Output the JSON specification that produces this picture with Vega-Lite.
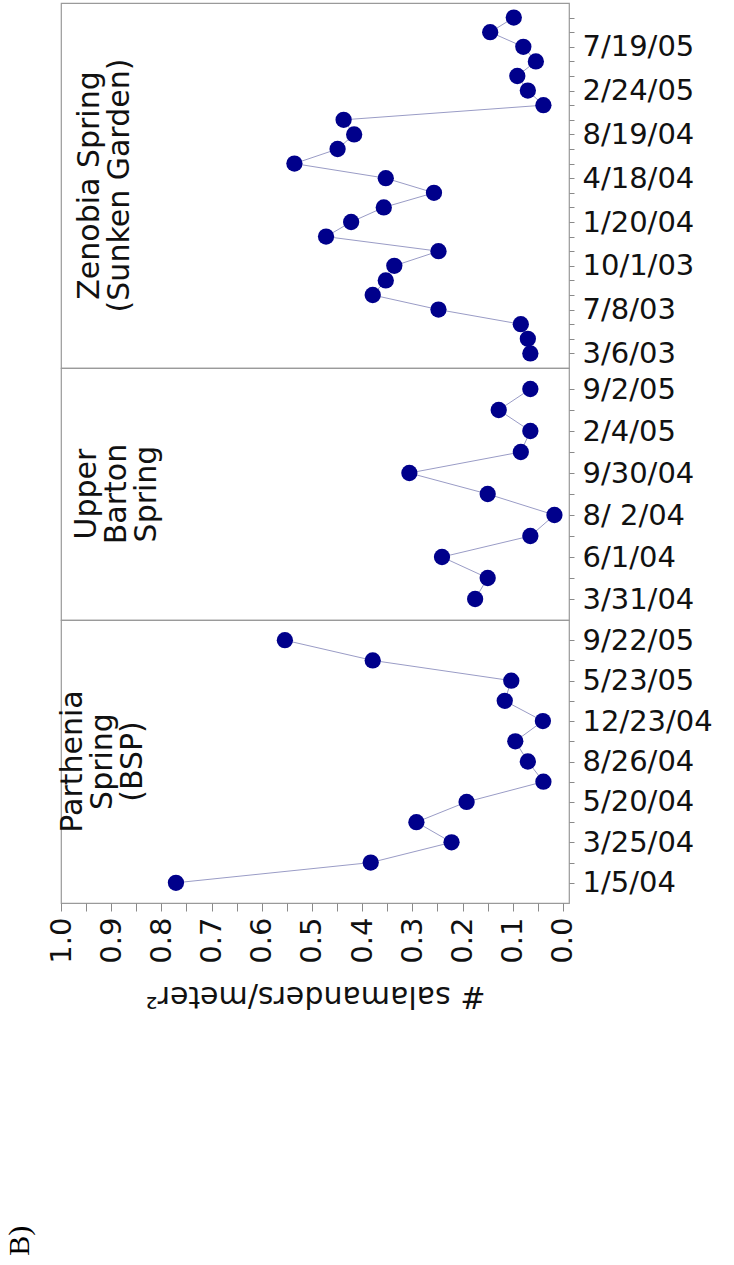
{
  "$schema": "https://vega.github.io/schema/vega-lite/v6.json",
  "padding": {"left": 5, "top": 2, "right": 5, "bottom": 5},
  "spacing": 0,
  "bounds": "flush",
  "config": {
    "font": "DejaVu Sans",
    "view": {"stroke": "#9a9a9a", "strokeWidth": 1.2},
    "axis": {"labelFont": "DejaVu Sans", "labelFontSize": 29, "labelColor": "#111111", "titleFont": "DejaVu Sans", "titleFontSize": 30, "titleFontWeight": "normal", "titleColor": "#111111", "tickColor": "#8a8a8a", "domainColor": "#9a9a9a", "grid": false, "labelOverlap": false},
    "title": {"font": "DejaVu Sans", "fontSize": 30, "fontWeight": "normal", "color": "#111111"}
  },
  "title": {"text": "B)", "orient": "bottom", "anchor": "start", "angle": 270, "font": "Liberation Serif", "fontSize": 30, "color": "#000000", "offset": 245, "dy": -41},
  "datasets": {
    "zen": [
      {"obs": 0, "date": "3/6/03", "value": 0.065},
      {"obs": 1, "date": "4/10/03", "value": 0.070},
      {"obs": 2, "date": "5/15/03", "value": 0.084},
      {"obs": 3, "date": "7/8/03", "value": 0.248},
      {"obs": 4, "date": "7/29/03", "value": 0.379},
      {"obs": 5, "date": "8/27/03", "value": 0.353},
      {"obs": 6, "date": "10/1/03", "value": 0.336},
      {"obs": 7, "date": "10/29/03", "value": 0.248},
      {"obs": 8, "date": "12/10/03", "value": 0.472},
      {"obs": 9, "date": "1/20/04", "value": 0.422},
      {"obs": 10, "date": "2/18/04", "value": 0.357},
      {"obs": 11, "date": "3/17/04", "value": 0.257},
      {"obs": 12, "date": "4/18/04", "value": 0.353},
      {"obs": 13, "date": "5/20/04", "value": 0.535},
      {"obs": 14, "date": "6/23/04", "value": 0.449},
      {"obs": 15, "date": "8/19/04", "value": 0.416},
      {"obs": 16, "date": "10/14/04", "value": 0.437},
      {"obs": 17, "date": "12/15/04", "value": 0.039},
      {"obs": 18, "date": "2/24/05", "value": 0.070},
      {"obs": 19, "date": "4/7/05", "value": 0.091},
      {"obs": 20, "date": "5/26/05", "value": 0.054},
      {"obs": 21, "date": "7/19/05", "value": 0.079},
      {"obs": 22, "date": "8/24/05", "value": 0.145},
      {"obs": 23, "date": "9/28/05", "value": 0.098}
    ],
    "bar": [
      {"obs": 0, "date": "3/31/04", "value": 0.175},
      {"obs": 1, "date": "4/29/04", "value": 0.150},
      {"obs": 2, "date": "6/1/04", "value": 0.241},
      {"obs": 3, "date": "6/30/04", "value": 0.065},
      {"obs": 4, "date": "8/ 2/04", "value": 0.017},
      {"obs": 5, "date": "8/31/04", "value": 0.150},
      {"obs": 6, "date": "9/30/04", "value": 0.306},
      {"obs": 7, "date": "12/1/04", "value": 0.084},
      {"obs": 8, "date": "2/4/05", "value": 0.065},
      {"obs": 9, "date": "5/25/05", "value": 0.128},
      {"obs": 10, "date": "9/2/05", "value": 0.065}
    ],
    "par": [
      {"obs": 0, "date": "1/5/04", "value": 0.771},
      {"obs": 1, "date": "2/24/04", "value": 0.383},
      {"obs": 2, "date": "3/25/04", "value": 0.222},
      {"obs": 3, "date": "4/22/04", "value": 0.292},
      {"obs": 4, "date": "5/20/04", "value": 0.192},
      {"obs": 5, "date": "7/22/04", "value": 0.039},
      {"obs": 6, "date": "8/26/04", "value": 0.070},
      {"obs": 7, "date": "10/21/04", "value": 0.095},
      {"obs": 8, "date": "12/23/04", "value": 0.040},
      {"obs": 9, "date": "3/17/05", "value": 0.116},
      {"obs": 10, "date": "5/23/05", "value": 0.103},
      {"obs": 11, "date": "7/21/05", "value": 0.379},
      {"obs": 12, "date": "9/22/05", "value": 0.554}
    ]
  },
  "vconcat": [
    {
      "width": 508, "height": 365,
      "data": {"name": "zen"},
      "title": {"text": ["Zenobia Spring", "(Sunken Garden)"], "orient": "left", "anchor": "middle", "align": "center", "offset": -74, "lineHeight": 30},
      "encoding": {
        "y": {"field": "date", "type": "ordinal", "sort": {"field": "obs", "op": "min", "order": "descending"}, "scale": {"padding": 1.35},
          "axis": {"orient": "right", "title": null, "labelAngle": 0, "tickSize": 5, "labelPadding": 8, "domain": false,
            "labelExpr": "indexof(['3/6/03','7/8/03','10/1/03','1/20/04','4/18/04','8/19/04','2/24/05','7/19/05'], datum.value) >= 0 ? datum.value : ''"}},
        "x": {"field": "value", "type": "quantitative", "scale": {"domain": [-0.012, 1], "reverse": true, "nice": false, "zero": false}, "axis": null}
      },
      "layer": [
        {"mark": {"type": "line", "color": "#9a9cc6", "strokeWidth": 1}, "encoding": {"order": {"field": "obs"}}},
        {"mark": {"type": "circle", "size": 265, "color": "#00008b", "opacity": 1}}
      ]
    },
    {
      "width": 508, "height": 252,
      "data": {"name": "bar"},
      "title": {"text": ["Upper", "Barton", "Spring"], "orient": "left", "anchor": "middle", "align": "center", "offset": -101, "lineHeight": 30},
      "encoding": {
        "y": {"field": "date", "type": "ordinal", "sort": {"field": "obs", "op": "min", "order": "descending"}, "scale": {"padding": 1.2},
          "axis": {"orient": "right", "title": null, "labelAngle": 0, "tickSize": 5, "labelPadding": 8, "domain": false,
            "labelExpr": "indexof(['3/31/04','6/1/04','8/ 2/04','9/30/04','2/4/05','9/2/05'], datum.value) >= 0 ? datum.value : ''"}},
        "x": {"field": "value", "type": "quantitative", "scale": {"domain": [-0.012, 1], "reverse": true, "nice": false, "zero": false}, "axis": null}
      },
      "layer": [
        {"mark": {"type": "line", "color": "#9a9cc6", "strokeWidth": 1}, "encoding": {"order": {"field": "obs"}}},
        {"mark": {"type": "circle", "size": 265, "color": "#00008b", "opacity": 1}}
      ]
    },
    {
      "width": 508, "height": 283,
      "data": {"name": "par"},
      "title": {"text": ["Parthenia", "Spring", "(BSP)"], "orient": "left", "anchor": "middle", "align": "center", "offset": -101, "lineHeight": 30},
      "encoding": {
        "y": {"field": "date", "type": "ordinal", "sort": {"field": "obs", "op": "min", "order": "descending"}, "scale": {"padding": 1.0},
          "axis": {"orient": "right", "title": null, "labelAngle": 0, "tickSize": 5, "labelPadding": 8, "domain": false,
            "labelExpr": "indexof(['1/5/04','3/25/04','5/20/04','8/26/04','12/23/04','5/23/05','9/22/05'], datum.value) >= 0 ? datum.value : ''"}},
        "x": {"field": "value", "type": "quantitative", "scale": {"domain": [-0.012, 1], "reverse": true, "nice": false, "zero": false},
          "axis": {"orient": "bottom", "title": "# salamanders/meter²", "titleAngle": 180, "titlePadding": 47, "domain": false, "tickSize": 8, "labelAngle": 270, "labelPadding": 6,
            "values": [0, 0.05, 0.1, 0.15, 0.2, 0.25, 0.3, 0.35, 0.4, 0.45, 0.5, 0.55, 0.6, 0.65, 0.7, 0.75, 0.8, 0.85, 0.9, 0.95, 1.0],
            "labelExpr": "round(datum.value * 20) % 2 == 0 ? format(datum.value, '.1f') : ''"}}
      },
      "layer": [
        {"mark": {"type": "line", "color": "#9a9cc6", "strokeWidth": 1}, "encoding": {"order": {"field": "obs"}}},
        {"mark": {"type": "circle", "size": 265, "color": "#00008b", "opacity": 1}}
      ]
    }
  ]
}
